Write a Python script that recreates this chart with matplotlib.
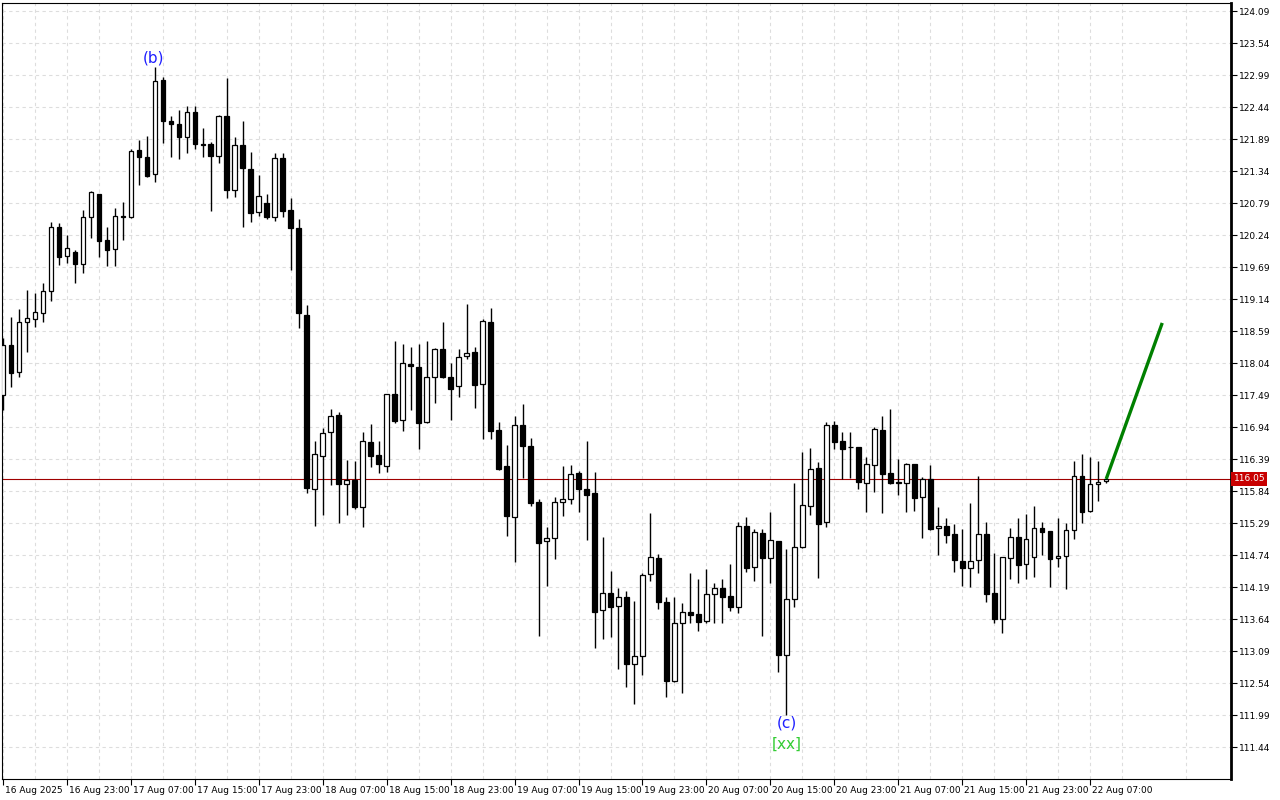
import matplotlib
matplotlib.use("Agg")
import matplotlib.pyplot as plt
import matplotlib.transforms as mtransforms
import numpy as np

# hourly candles, 16 Aug 15:00 .. 22 Aug 09:00
opens = [117.49, 118.35, 117.89, 118.74, 118.80, 118.90, 119.28, 120.38, 119.88, 119.95,
         119.74, 120.55, 120.94, 120.15, 120.00, 120.57, 120.55, 121.70, 121.58, 121.29,
         122.90, 122.20, 122.15, 121.92, 122.35, 121.80, 121.80, 121.60, 122.29, 121.01,
         121.79, 121.37, 120.64, 120.79, 120.55, 121.56, 120.67, 120.36, 118.87, 115.87,
         116.44, 116.85, 117.15, 115.96, 116.03, 115.57, 116.68, 116.46, 116.27, 117.51,
         117.06, 118.02, 117.97, 117.03, 117.80, 118.28, 117.80, 117.64, 118.16, 118.23,
         117.68, 118.74, 116.89, 116.27, 115.39, 116.97, 116.61, 115.65, 114.98, 115.03,
         115.65, 115.70, 116.15, 115.87, 115.81, 113.79, 114.09, 113.86, 114.02, 112.87,
         113.00, 114.41, 114.69, 113.93, 112.57, 113.57, 113.76, 113.73, 113.61, 114.07,
         114.17, 114.04, 113.85, 115.24, 114.53, 115.12, 114.69, 114.98, 113.02, 113.98,
         114.88, 115.58, 116.24, 115.31, 116.97, 116.70, 116.60, 116.60, 115.98, 116.29,
         116.89, 116.15, 115.99, 115.98, 116.30, 115.74, 116.05, 115.20, 115.24, 115.10,
         114.64, 114.52, 114.65, 115.10, 114.09, 113.64, 114.69, 115.05, 114.59, 114.71,
         115.20, 115.15, 114.69, 114.72, 115.17, 116.10, 115.50, 115.96, 116.01]
highs = [118.47, 118.83, 118.97, 119.29, 119.24, 119.41, 120.46, 120.45, 120.24, 119.98,
         120.67, 121.00, 120.94, 120.38, 120.70, 120.81, 121.72, 121.87, 121.94, 123.13,
         122.96, 122.29, 122.39, 122.46, 122.46, 122.08, 121.84, 122.30, 122.94, 121.92,
         122.20, 121.67, 121.27, 120.94, 121.65, 121.65, 120.88, 120.52, 119.04, 116.70,
         116.92, 117.25, 117.20, 116.37, 116.36, 116.85, 116.99, 116.70, 117.51, 118.42,
         118.37, 118.32, 118.37, 118.42, 118.30, 118.74, 118.04, 118.28, 119.05, 118.32,
         118.80, 118.99, 117.03, 116.63, 117.13, 117.34, 116.75, 115.70, 115.22, 115.74,
         116.27, 116.29, 116.18, 116.70, 116.17, 115.05, 114.47, 114.17, 114.12, 113.95,
         114.43, 115.46, 114.76, 114.02, 114.02, 113.92, 114.43, 114.33, 114.50, 114.26,
         114.33, 114.59, 115.31, 115.39, 115.19, 115.19, 115.48, 114.98, 114.84, 115.98,
         116.51, 116.58, 116.34, 117.03, 117.04, 116.85, 116.85, 116.60, 116.42, 116.94,
         117.13, 117.25, 116.39, 116.32, 116.30, 116.08, 116.29, 115.57, 115.38, 115.27,
         115.19, 115.63, 116.10, 115.31, 114.77, 114.71, 115.20, 115.38, 115.44, 115.58,
         115.31, 115.15, 115.38, 115.29, 116.36, 116.48, 116.42, 116.36, 116.08]
lows = [117.23, 117.63, 117.80, 118.23, 118.66, 118.74, 119.11, 119.72, 119.76, 119.41,
        119.59, 120.19, 119.86, 119.71, 119.71, 120.15, 120.53, 121.10, 121.24, 121.15,
        121.82, 121.58, 121.55, 121.65, 121.72, 121.58, 120.65, 121.48, 120.88, 120.89,
        120.38, 120.46, 120.57, 120.52, 120.48, 120.55, 119.64, 118.64, 115.81, 115.24,
        115.43, 115.94, 115.29, 115.43, 115.53, 115.22, 116.25, 116.15, 116.17, 117.01,
        116.87, 117.23, 116.56, 117.01, 117.35, 117.78, 117.06, 117.46, 118.11, 117.27,
        116.73, 116.73, 116.20, 115.07, 114.62, 116.06, 115.58, 113.35, 114.21, 114.67,
        115.41, 115.62, 115.48, 115.00, 113.14, 113.30, 113.33, 112.78, 112.47, 112.18,
        112.68, 114.29, 113.81, 112.30, 112.56, 112.37, 113.57, 113.43, 113.57, 113.57,
        113.57, 113.78, 113.74, 114.45, 114.29, 113.35, 114.26, 112.73, 111.99, 113.85,
        114.86, 115.43, 114.34, 115.22, 116.56, 116.05, 116.06, 115.87, 115.48, 115.82,
        115.46, 115.96, 115.77, 115.48, 115.50, 115.03, 115.17, 114.74, 114.95, 114.45,
        114.21, 114.19, 114.43, 113.93, 113.57, 113.40, 114.33, 114.26, 114.33, 114.36,
        114.74, 114.19, 114.53, 114.16, 115.01, 115.29, 115.48, 115.67, 115.98]
closes = [118.35, 117.87, 118.74, 118.81, 118.92, 119.28, 120.38, 119.86, 120.02, 119.74,
          120.55, 120.98, 120.14, 119.98, 120.57, 120.55, 121.68, 121.58, 121.25, 122.89,
          122.20, 122.15, 121.92, 122.35, 121.80, 121.79, 121.60, 122.29, 121.01, 121.79,
          121.39, 120.62, 120.91, 120.55, 121.56, 120.65, 120.36, 118.90, 115.89, 116.48,
          116.84, 117.13, 115.96, 116.03, 115.57, 116.70, 116.44, 116.30, 117.51, 117.04,
          118.04, 117.99, 117.01, 117.80, 118.28, 117.80, 117.59, 118.14, 118.21, 117.66,
          118.76, 116.87, 116.22, 115.41, 116.97, 116.61, 115.63, 114.95, 115.03, 115.65,
          115.70, 116.13, 115.87, 115.77, 113.76, 114.09, 113.85, 114.02, 112.87, 113.00,
          114.40, 114.71, 113.93, 112.57, 113.57, 113.76, 113.71, 113.59, 114.07, 114.17,
          114.02, 113.85, 115.24, 114.52, 115.14, 114.69, 115.00, 113.02, 113.98, 114.88,
          115.60, 116.22, 115.27, 116.97, 116.68, 116.56, 116.59, 115.99, 116.30, 116.91,
          116.13, 115.98, 115.98, 116.30, 115.72, 116.05, 115.19, 115.24, 115.08, 114.65,
          114.52, 114.64, 115.10, 114.07, 113.64, 114.71, 115.05, 114.57, 115.01, 115.20,
          115.14, 114.67, 114.72, 115.17, 116.10, 115.48, 115.96, 115.99, 116.05]

time_labels = ["16 Aug 2025", "16 Aug 23:00", "17 Aug 07:00", "17 Aug 15:00", "17 Aug 23:00",
               "18 Aug 07:00", "18 Aug 15:00", "18 Aug 23:00", "19 Aug 07:00", "19 Aug 15:00",
               "19 Aug 23:00", "20 Aug 07:00", "20 Aug 15:00", "20 Aug 23:00", "21 Aug 07:00",
               "21 Aug 15:00", "21 Aug 23:00", "22 Aug 07:00"]
price_ticks = [111.44, 111.99, 112.54, 113.09, 113.64, 114.19, 114.74, 115.29, 115.84, 116.39,
               116.94, 117.49, 118.04, 118.59, 119.14, 119.69, 120.24, 120.79, 121.34, 121.89,
               122.44, 122.99, 123.54, 124.09]
last_price = 116.05
# projected move (bars ahead, target price)
proj_bar = 145
proj_price = 118.73

fig = plt.figure(figsize=(12.8, 8), dpi=100)
ax = fig.add_axes([2 / 1280, 21 / 800, 1229 / 1280, 776 / 800])

x = np.arange(len(opens))
o = np.array(opens)
h = np.array(highs)
l = np.array(lows)
c = np.array(closes)
up = c >= o

ax.vlines(x, l, h, color="black", linewidth=1.0, zorder=2)
body_lo = np.minimum(o, c)
body_h = np.abs(c - o)
ax.bar(x, body_h, bottom=body_lo, width=0.55,
       color=np.where(up, "white", "black"), edgecolor="black", linewidth=0.9, zorder=3)

ax.axhline(last_price, color="#a00000", linewidth=0.8, zorder=1)
ax.plot([x[-1], proj_bar], [closes[-1], proj_price], color="#008000", linewidth=2.4,
        zorder=4, solid_capstyle="butt")

ax.text(18.9, 123.28, "(b)", color="#1f1fff", fontsize=11, ha="center", va="center")
ax.text(98.1, 111.85, "(c)", color="#1f1fff", fontsize=11, ha="center", va="center")
ax.text(98.0, 111.49, "[xx]", color="#33cc33", fontsize=11, ha="center", va="center")

ax.set_xlim(-0.1, 153.6)
ax.set_ylim(110.89, 124.23)

ax.set_xticks(np.arange(0, 8 * len(time_labels), 8))
ax.set_xticklabels(time_labels, ha="left", fontsize=6.5)
ax.set_xticks(np.arange(4, 154, 8), minor=True)
ax.tick_params(axis="x", which="major", direction="out", length=4, width=0.8, pad=1)
ax.tick_params(axis="x", which="minor", length=0)
for lab in ax.get_xticklabels():
    lab.set_transform(lab.get_transform() + mtransforms.ScaledTranslation(2 / 100, 0, fig.dpi_scale_trans))

ax.yaxis.tick_right()
ax.set_yticks(price_ticks)
ax.set_yticklabels([f"{p:.2f}" for p in price_ticks], fontsize=6.5)
ax.tick_params(axis="y", direction="out", length=4, width=0.8, pad=2)

ax.grid(True, which="both", color="#dddddd", linestyle=(0, (3, 3)), linewidth=0.8, zorder=0)
ax.set_axisbelow(True)

for s in ax.spines.values():
    s.set_color("black")
    s.set_linewidth(0.8)
ax.spines["right"].set_linewidth(2)

trans = mtransforms.blended_transform_factory(ax.transAxes, ax.transData)
ax.text(1.002, last_price, f"{last_price:.2f}", transform=trans, fontsize=6.5, color="white",
        ha="left", va="center", zorder=6,
        bbox=dict(boxstyle="square,pad=0.25", facecolor="#c80000", edgecolor="none"))

fig.savefig("out.png", dpi=100, facecolor="white")
